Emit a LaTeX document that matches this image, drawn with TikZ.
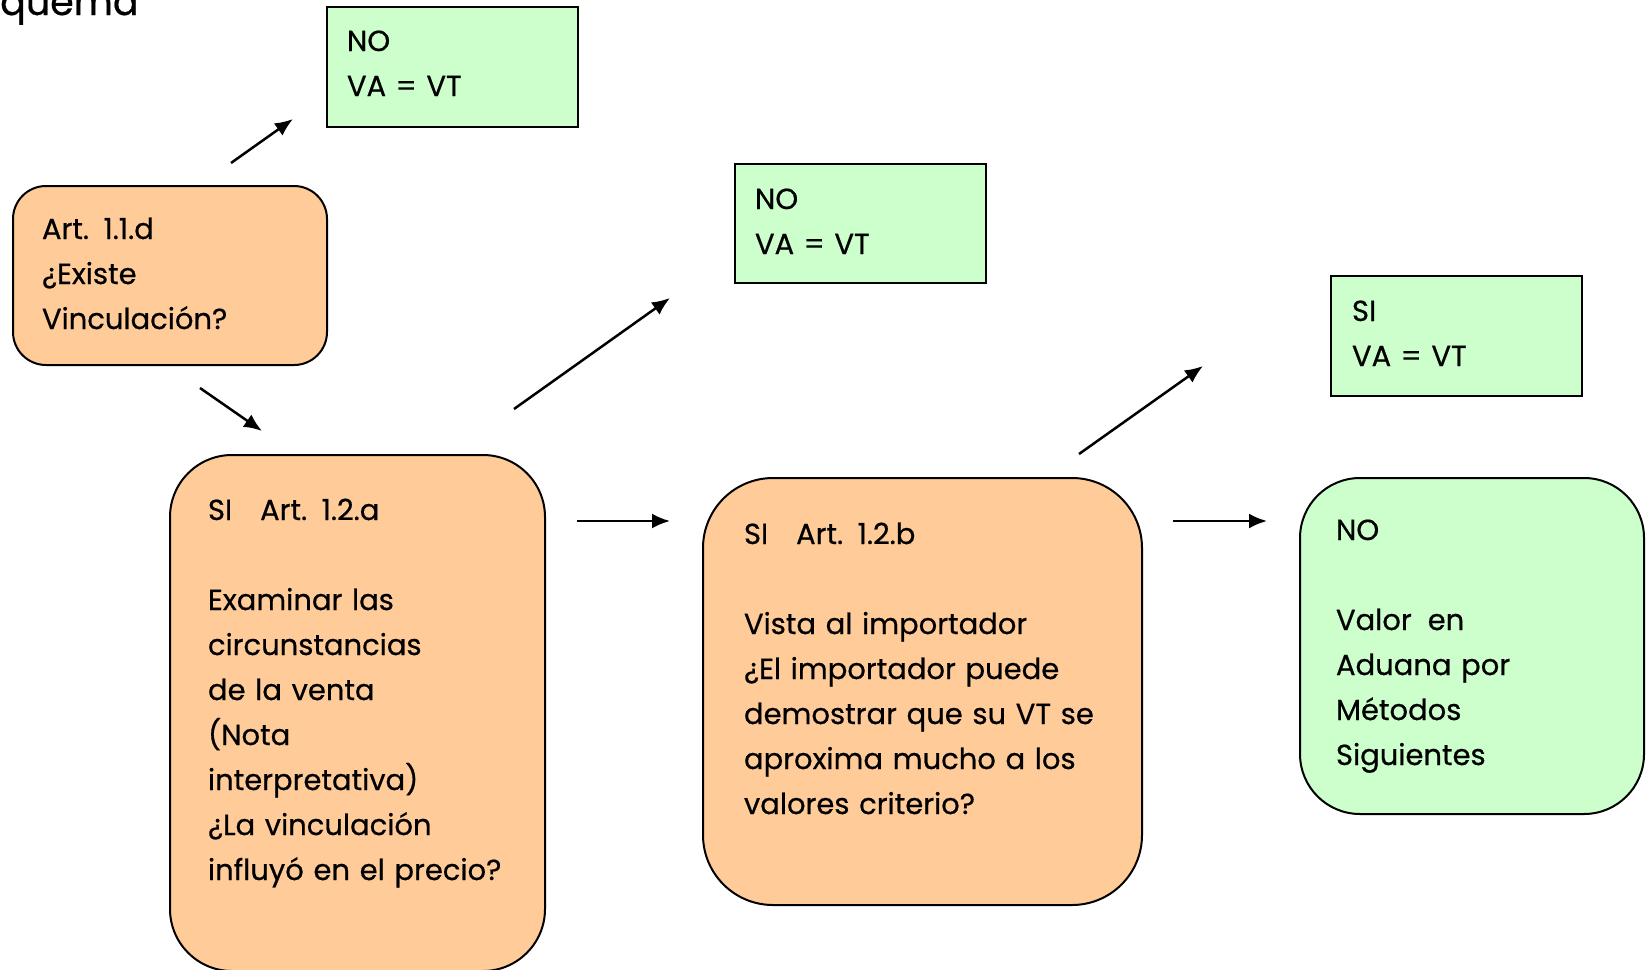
\documentclass[tikz,border=0pt]{standalone}
\usepackage{fontspec}
\setmainfont{Poppins}[FakeBold=0.6]
\usepackage{tikz}
\usetikzlibrary{arrows.meta}
\definecolor{naranja}{HTML}{FFCC99}
\definecolor{verde}{HTML}{CCFFCC}
\tikzset{
  caja/.style={draw, line width=2pt, anchor=north west, inner ysep=0pt, align=left,
    font=\fontsize{29}{45}\selectfont},
  pregunta/.style={caja, fill=naranja},
  respuesta/.style={caja, fill=verde},
  flecha/.style={line width=2.5pt, -{Latex[length=18pt,width=15pt]}}
}

\begin{document}
\begin{tikzpicture}[x=1pt,y=-1pt]
\useasboundingbox (0,0) rectangle (1648,969);
\node[anchor=base west, inner sep=0pt, font=\fontsize{38}{48}\selectfont] (titulo) at (0,15) {quema};

\node[respuesta, inner xsep=20pt, text width=211pt, text height=44pt, text depth=76pt] (noA) at (326,6) {NO\\VA = VT};
\node[pregunta, rounded corners=33pt, inner xsep=29pt, text width=256pt, text height=53pt, text depth=126pt] (art11d) at (12,185) {Art. 1.1.d\\¿Existe\\Vinculación?};
\node[respuesta, inner xsep=20pt, text width=211pt, text height=45pt, text depth=74pt] (noB) at (734,163) {NO\\VA = VT};
\node[respuesta, inner xsep=21pt, text width=209pt, text height=45pt, text depth=75pt] (siC) at (1330,275) {SI\\VA = VT};
\node[pregunta, rounded corners=62pt, inner xsep=38pt, text width=299pt, text height=65pt, text depth=451pt] (art12a) at (169,454)
  {SI\hspace{28pt}Art. 1.2.a\\[45pt]Examinar las\\circunstancias\\de la venta\\(Nota\\interpretativa)\\¿La vinculación\\influyó en el precio?};
\node[pregunta, rounded corners=70pt, inner xsep=41pt, text width=357pt, text height=66pt, text depth=361pt] (art12b) at (702,477)
  {SI\hspace{28pt}Art. 1.2.b\\[45pt]Vista al importador\\¿El importador puede\\demostrar que su VT se\\aproxima mucho a los\\valores criterio?};
\node[respuesta, rounded corners=60pt, inner xsep=36pt, text width=272pt, text height=62pt, text depth=274pt] (noD) at (1299,477)
  {NO\\[45pt]Valor\hspace{16pt}en\\Aduana por\\Métodos\\Siguientes};

\coordinate (a1) at (231,163);
\coordinate (a2) at (293,119);
\coordinate (b1) at (200,388);
\coordinate (b2) at (262,431);
\coordinate (c1) at (514,409);
\coordinate (c2) at (670,298);
\coordinate (d1) at (577,521);
\coordinate (d2) at (670,521);
\coordinate (e1) at (1079,454);
\coordinate (e2) at (1203,366);
\coordinate (f1) at (1173,521);
\coordinate (f2) at (1267,521);
\draw[flecha] (a1) -- (a2);
\draw[flecha] (b1) -- (b2);
\draw[flecha] (c1) -- (c2);
\draw[flecha] (d1) -- (d2);
\draw[flecha] (e1) -- (e2);
\draw[flecha] (f1) -- (f2);
\end{tikzpicture}
\end{document}
